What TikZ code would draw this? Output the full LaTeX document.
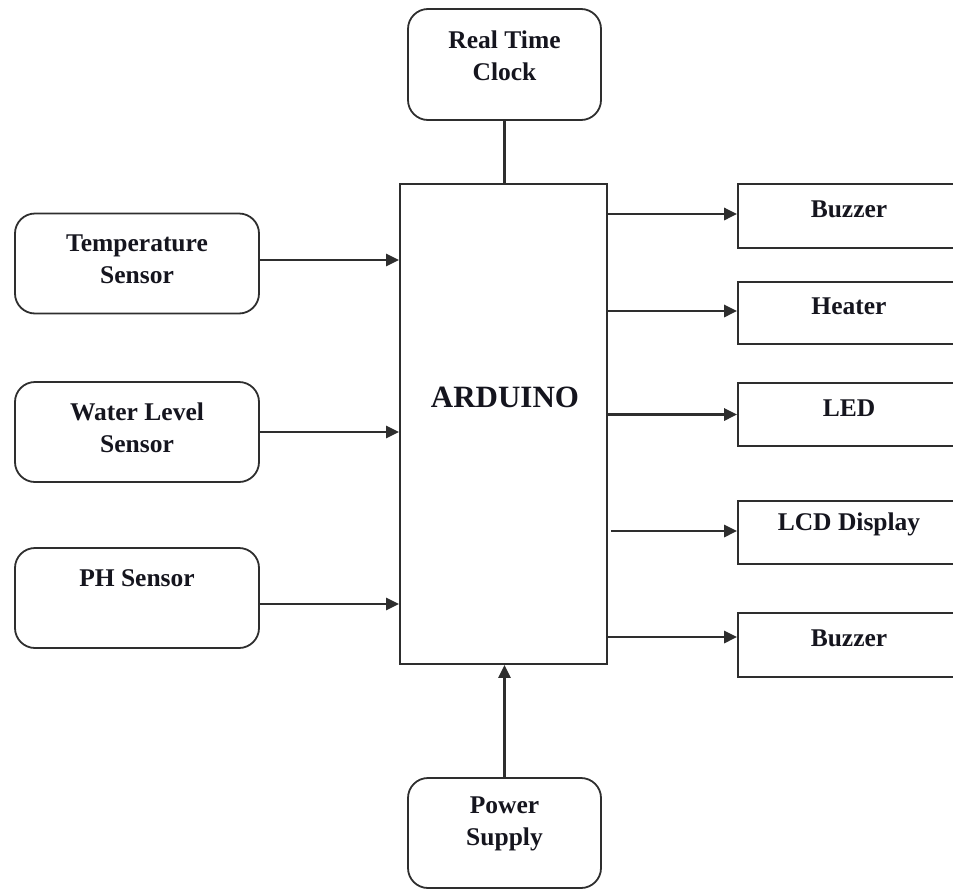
\documentclass[tikz,border=0pt]{standalone}
\usepackage{fontspec}
\setmainfont{Liberation Serif}
\usetikzlibrary{arrows.meta}
\definecolor{ln}{HTML}{2E2E2E}
\definecolor{tx}{HTML}{15151E}
\tikzset{
  rbox/.style={draw=ln, line width=1.8pt, rounded corners=20pt, minimum width=244pt, minimum height=100pt, inner sep=0pt},
  sbox/.style={draw=ln, line width=1.7pt, minimum width=222pt, inner sep=0pt},
  lbl/.style={text=tx, font=\bfseries\fontsize{25.5}{32}\selectfont, align=center, inner sep=0pt},
  conn/.style={draw=ln, line width=2.8pt},
  arr/.style={conn, -{Triangle[length=13pt,width=12pt]}}
}
\begin{document}
\begin{tikzpicture}[x=1pt,y=-1pt]
\useasboundingbox (0,0) rectangle (953,889);
\clip (0,0) rectangle (953,889);
% central block
\node[draw=ln, line width=1.8pt, minimum width=207pt, minimum height=480pt, inner sep=0pt] (ard) at (503.5,424) {};
\node[lbl, font=\bfseries\fontsize{31}{36}\selectfont] (ardt) at (505,397) {ARDUINO};
% top / bottom
\node[rbox, minimum width=193pt, minimum height=111pt] (rtc) at (504.5,64.5) {};
\node[lbl] (rtct) at (504.5,56) {Real Time\\Clock};
\node[rbox, minimum width=193pt, minimum height=110pt] (pwr) at (504.5,833) {};
\node[lbl] (pwrt) at (504.5,824) {Power\\Supply};
% left sensors
\node[rbox] (temp) at (137,263.5) {};
\node[lbl] (tempt) at (137,259) {Temperature\\Sensor};
\node[rbox] (water) at (137,432) {};
\node[lbl] (watert) at (137,428) {Water Level\\Sensor};
\node[rbox] (ph) at (137,598) {};
\node[lbl] (pht) at (137,578) {PH Sensor};
% right outputs
\node[sbox, minimum height=64pt] (bz1) at (849,216) {};
\node[lbl] (bz1t) at (849,209) {Buzzer};
\node[sbox, minimum height=62pt] (heat) at (849,313) {};
\node[lbl] (heatt) at (849,306) {Heater};
\node[sbox, minimum height=63pt] (led) at (849,414.5) {};
\node[lbl] (ledt) at (849,408) {LED};
\node[sbox, minimum height=63pt] (lcd) at (849,532.5) {};
\node[lbl] (lcdt) at (849,524) {LCD Display};
\node[sbox, minimum height=64pt] (bz2) at (849,645) {};
\node[lbl] (bz2t) at (849,638) {Buzzer};
% connectors
\draw[conn] (rtc.south) -- (rtc.south |- ard.north);
\draw[arr] (pwr.north) -- (pwr.north |- ard.south);
\draw[arr] ([yshift=3.5pt]temp.east) -- ([yshift=3.5pt]temp.east -| ard.west);
\draw[arr] (water.east) -- (water.east -| ard.west);
\draw[arr] ([yshift=-6pt]ph.east) -- ([yshift=-6pt]ph.east -| ard.west);
\draw[arr] ([yshift=2pt]bz1.west -| ard.east) -- ([yshift=2pt]bz1.west);
\draw[arr] ([yshift=2pt]heat.west -| ard.east) -- ([yshift=2pt]heat.west);
\draw[arr] (led.west -| ard.east) -- (led.west);
\draw[arr] ([xshift=3pt,yshift=1.5pt]lcd.west -| ard.east) -- ([yshift=1.5pt]lcd.west);
\draw[arr] ([yshift=8pt]bz2.west -| ard.east) -- ([yshift=8pt]bz2.west);
\end{tikzpicture}
\end{document}
